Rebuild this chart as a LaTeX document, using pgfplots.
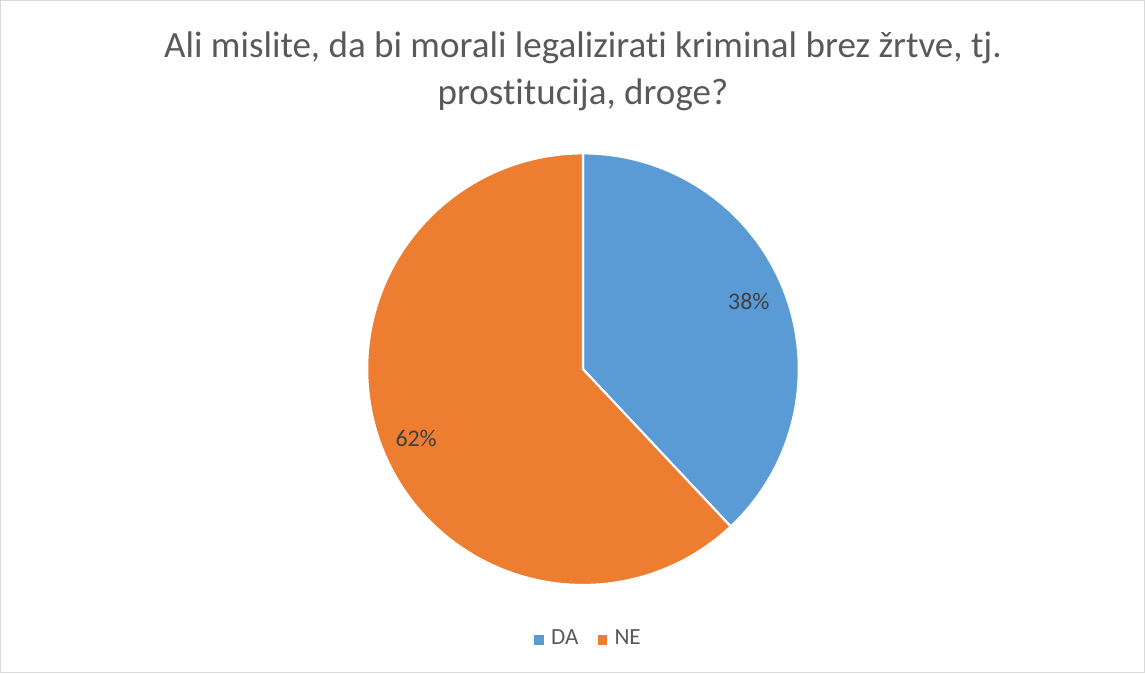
\documentclass[border=0pt]{standalone}
\usepackage{pgfplots}
\pgfplotsset{compat=1.18}
\usepackage{fontspec}
\setmainfont{Carlito}[Ligatures=NoCommon]
\definecolor{daBlue}{HTML}{5B9BD5}
\definecolor{neOrange}{HTML}{ED7D31}
\definecolor{titleGray}{HTML}{595959}
\definecolor{labGray}{HTML}{404040}
\definecolor{frameGray}{HTML}{D9D9D9}
% data (percent)
\def\valDA{38}
\def\valNE{62}
\begin{document}
\begin{tikzpicture}
\pgfmathsetmacro{\aStart}{90}
\pgfmathsetmacro{\aMid}{90-3.6*\valDA}
\pgfmathsetmacro{\aEnd}{\aMid-3.6*\valNE}
\begin{axis}[
  scale only axis, width=11.45cm, height=6.73cm,
  xmin=0, xmax=1145, ymin=0, ymax=673,
  xtick=\empty, ytick=\empty,
  axis line style={draw=frameGray, line width=0.3pt},
  legend columns=2,
  legend style={at={(axis cs:591,33)}, anchor=center, draw=none, fill=none,
    font=\fontsize{6.6}{7.5}\selectfont, text=titleGray,
    /tikz/every even column/.append style={column sep=0.12cm}},
  legend image code/.code={\fill[#1,draw=none] (-0.04cm,-0.05cm) rectangle (0.06cm,0.05cm);},
]
\addplot[fill=daBlue, draw=white, line width=0.6pt, domain=\aMid:\aStart, samples=120, variable=\t]
  ({583+216*cos(\t)},{304+216*sin(\t)}) -- (axis cs:583,304) -- cycle;
\addlegendentry{DA}
\addplot[fill=neOrange, draw=white, line width=0.6pt, domain=\aEnd:\aMid, samples=180, variable=\t]
  ({583+216*cos(\t)},{304+216*sin(\t)}) -- (axis cs:583,304) -- cycle;
\addlegendentry{NE}
\node[anchor=base, text=titleGray, font=\fontsize{10.55}{12}\selectfont] at (axis cs:583,616) {Ali mislite, da bi morali legalizirati kriminal brez žrtve, tj.};
\node[anchor=base, text=titleGray, font=\fontsize{10.55}{12}\selectfont] at (axis cs:583,569) {prostitucija, droge?};
\node[text=labGray, font=\fontsize{6.8}{8}\selectfont] at (axis cs:749,372) {38\%};
\node[text=labGray, font=\fontsize{6.8}{8}\selectfont] at (axis cs:416,235) {62\%};
\end{axis}
\end{tikzpicture}
\end{document}
